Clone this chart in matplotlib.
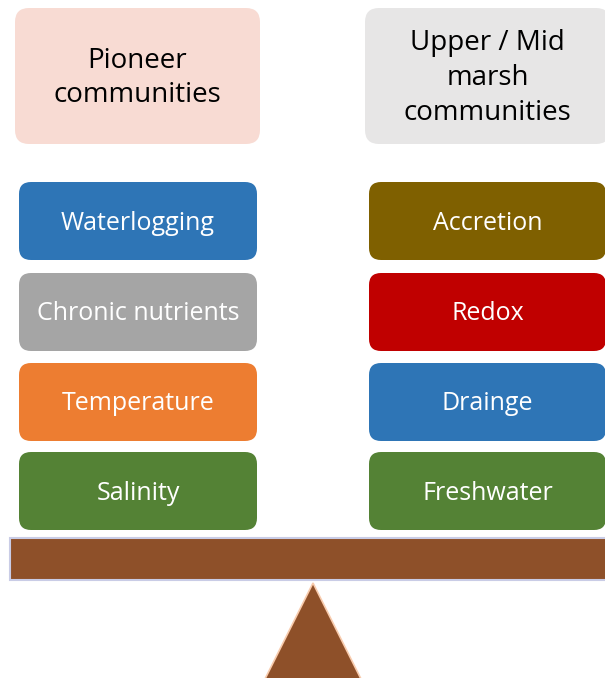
import matplotlib.pyplot as plt
from matplotlib.patches import FancyBboxPatch, Rectangle, Polygon

# header boxes
headers = ["Pioneer\ncommunities", "Upper / Mid\nmarsh\ncommunities"]
header_colors = ["#F8DBD3", "#E7E6E6"]

# factor boxes, top to bottom
left_factors = ["Waterlogging", "Chronic nutrients", "Temperature", "Salinity"]
left_colors = ["#2E75B6", "#A5A5A5", "#ED7D31", "#548235"]
right_factors = ["Accretion", "Redox", "Drainge", "Freshwater"]
right_colors = ["#7F6000", "#C00000", "#2E75B6", "#548235"]

plt.rcParams['font.family'] = ['Open Sans', 'DejaVu Sans']

fig = plt.figure(figsize=(6.05, 6.78), dpi=100)
ax = fig.add_axes([0, 0, 1, 1])
ax.set_xlim(0, 605)
ax.set_ylim(678, 0)
ax.axis('off')


def box(x0, y0, w, h, color, text, tcolor, size, r=12):
    p = FancyBboxPatch((x0 + r, y0 + r), w - 2 * r, h - 2 * r,
                       boxstyle="round,pad=%d" % r, fc=color, ec="none")
    ax.add_patch(p)
    ax.text(x0 + w / 2, y0 + h / 2 + 2, text, ha='center', va='center',
            color=tcolor, fontsize=size, linespacing=1.32)


# headers
box(15, 8, 245, 136, header_colors[0], headers[0], "black", 20, r=14)
box(365, 8, 245, 136, header_colors[1], headers[1], "black", 20, r=14)

tops = [182, 273, 363, 452]
for i in range(4):
    box(19, tops[i], 238, 78, left_colors[i], left_factors[i], "white", 18)
    box(369, tops[i], 237, 78, right_colors[i], right_factors[i], "white", 18)

# beam
ax.add_patch(Rectangle((10, 538), 605, 42, fc="#8E5029", ec="#C9CCE6", lw=1.5))

# fulcrum
ax.add_patch(Polygon([(313, 583), (263, 683), (363, 683)], closed=True,
                     fc="#8E5029", ec="#F8CBAD", lw=1.2))

fig.savefig("out.png", dpi=100)
